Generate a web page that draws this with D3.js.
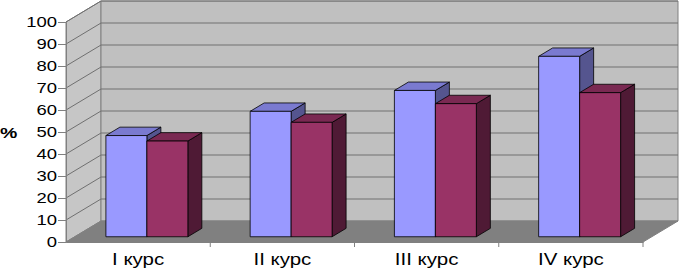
<!DOCTYPE html>
<html>
<head>
<meta charset="utf-8">
<script src="https://cdn.jsdelivr.net/npm/d3@7"></script>
<style>
  body { margin: 0; background: #fff; }
  svg { display: block; font-family: Arial, "Liberation Sans", sans-serif; }
</style>
</head>
<body>
<svg id="chart" width="679" height="269"></svg>
<script>
/* chart data */
const categories = ["I курс", "II курс", "III курс", "IV курс"];
const seriesNames = ["s1", "s2"];
const series1 = [46, 57, 66.5, 82];
const series2 = [43.5, 52, 60.5, 65.5];
const yTicks = [0, 10, 20, 30, 40, 50, 60, 70, 80, 90, 100];

const svg = d3.select("#chart");

/* 3d frame constants */
const depthX = 35;
const depthY = -21;
const barFront = 0.25;
const barBack = 0.65;

const x = d3.scaleBand()
    .domain(categories)
    .range([66, 643])
    .paddingInner(0)
    .paddingOuter(0);

const xs = d3.scaleBand()
    .domain(seriesNames)
    .range([0, x.bandwidth()])
    .paddingInner(0)
    .paddingOuter(0.76);

const y = d3.scaleLinear()
    .domain([0, 100])
    .range([242, 22]);

function p(px, py, d) {
    return [px + d * depthX, py + d * depthY];
}
function poly(pts) {
    return pts.map(q => q.join(",")).join(" ");
}

/* walls */
svg.append("polygon")
    .attr("points", poly([p(66, y(100), 0), p(66, y(100), 1), p(66, y(0), 1), p(66, y(0), 0)]))
    .style("fill", "#c6c6c6")
    .style("stroke", "#808080");

svg.append("polygon")
    .attr("points", poly([p(66, y(100), 1), p(643, y(100), 1), p(643, y(0), 1), p(66, y(0), 1)]))
    .style("fill", "#c0c0c0")
    .style("stroke", "#808080");

/* gridlines */
yTicks.filter(v => v > 0).forEach(v => {
    svg.append("line")
        .attr("x1", p(66, y(v), 1)[0]).attr("y1", p(66, y(v), 1)[1])
        .attr("x2", p(643, y(v), 1)[0]).attr("y2", p(643, y(v), 1)[1])
        .style("stroke", "#707070");
    svg.append("line")
        .attr("x1", 66).attr("y1", y(v))
        .attr("x2", p(66, y(v), 1)[0]).attr("y2", p(66, y(v), 1)[1])
        .style("stroke", "#707070");
});

/* floor */
svg.append("polygon")
    .attr("points", poly([p(66, y(0), 0), p(66, y(0), 1), p(643, y(0), 1), p(643, y(0), 0)]))
    .style("fill", "#808080")
    .style("stroke", "#808080");

/* bars */
const colors = [
    { front: "#9999ff", top: "#7a7ad0", side: "#55558f" },
    { front: "#993366", top: "#7a2952", side: "#4f1a35" }
];

function drawBar(cat, key, value, c) {
    const x0 = x(cat) + xs(key);
    const x1 = x0 + xs.bandwidth();
    const yt = y(value), yb = y(0);
    const g = svg.append("g").attr("class", "bar");
    g.append("polygon")
        .attr("points", poly([p(x1, yt, barFront), p(x1, yt, barBack), p(x1, yb, barBack), p(x1, yb, barFront)]))
        .style("fill", c.side).style("stroke", "#000").style("stroke-width", 0.8);
    g.append("polygon")
        .attr("points", poly([p(x0, yt, barFront), p(x0, yt, barBack), p(x1, yt, barBack), p(x1, yt, barFront)]))
        .style("fill", c.top).style("stroke", "#000").style("stroke-width", 0.8);
    g.append("polygon")
        .attr("points", poly([p(x0, yt, barFront), p(x1, yt, barFront), p(x1, yb, barFront), p(x0, yb, barFront)]))
        .style("fill", c.front).style("stroke", "#000").style("stroke-width", 0.8);
}

categories.forEach((cat, i) => {
    drawBar(cat, "s1", series1[i], colors[0]);
    drawBar(cat, "s2", series2[i], colors[1]);
});

/* y axis */
const yAxis = d3.axisLeft(y)
    .tickValues(yTicks)
    .tickSize(8)
    .tickPadding(3)
    .tickFormat(d3.format("d"));

const yg = svg.append("g")
    .attr("transform", "translate(66,0)")
    .call(yAxis);
yg.select(".domain").style("stroke", "#808080");
yg.selectAll(".tick line").style("stroke", "#808080");
yg.selectAll(".tick text")
    .style("font-size", "14px")
    .style("fill", "#000")
    .attr("x", 0)
    .attr("transform", "translate(-9,0) scale(1.32,1)");

/* x axis */
const xAxis = d3.axisBottom(x)
    .tickSize(0)
    .tickPadding(14);

const xg = svg.append("g")
    .attr("transform", "translate(0," + y(0) + ")")
    .call(xAxis);
xg.select(".domain").style("stroke", "#808080");
xg.selectAll(".tick text")
    .style("font-size", "16px")
    .style("fill", "#000")
    .attr("y", 0)
    .attr("dy", "23px")
    .attr("transform", "scale(1.28,1)")
    .attr("x", 0);

/* category separator ticks */
x.domain().slice(1).forEach(cat => {
    svg.append("line")
        .attr("x1", x(cat)).attr("x2", x(cat))
        .attr("y1", y(0)).attr("y2", y(0) + 5)
        .style("stroke", "#808080");
});
svg.append("line")
    .attr("x1", 643).attr("x2", 643)
    .attr("y1", y(0)).attr("y2", y(0) + 5)
    .style("stroke", "#808080");

/* y axis title */
svg.append("text")
    .attr("x", 0)
    .attr("y", 138)
    .style("font-size", "15px")
    .style("font-weight", "700")
    .attr("transform", "scale(1.3,1)")
    .text("%");
</script>
</body>
</html>
